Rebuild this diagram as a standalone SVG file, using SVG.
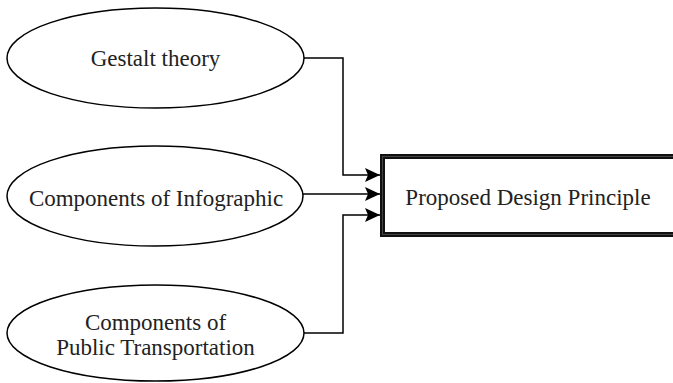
<svg xmlns="http://www.w3.org/2000/svg" width="673" height="383" viewBox="0 0 673 383">
<style>
.node ellipse{fill:#fff;stroke:#000;stroke-width:1.5}
text{font-family:"Liberation Serif","Times New Roman",serif;font-size:23px;fill:#222;text-anchor:middle}
.conn path{fill:none;stroke:#000;stroke-width:1.5}
</style>
<defs>
<marker id="arr" viewBox="0 0 15 14" refX="15" refY="7" markerWidth="15" markerHeight="14" markerUnits="userSpaceOnUse" orient="auto">
<path d="M0,0 L15,7 L0,14 L3,7 Z" fill="#000"/>
</marker>
</defs>
<rect width="673" height="383" fill="#fff"/>
<g id="gestalt" class="node">
<ellipse cx="155.5" cy="58" rx="148.5" ry="50"/>
<text x="155.5" y="66">Gestalt theory</text>
</g>
<g id="infographic" class="node">
<ellipse cx="155" cy="196" rx="148" ry="50"/>
<text x="156" y="206">Components of Infographic</text>
</g>
<g id="transport" class="node">
<ellipse cx="155.5" cy="333" rx="148.5" ry="48"/>
<text x="155.5" y="330">Components of</text>
<text x="155.5" y="355">Public Transportation</text>
</g>
<g id="principle">
<rect x="382.5" y="156.5" width="300" height="78" fill="#fff" stroke="#111" stroke-width="5"/>
<rect x="382.5" y="156.5" width="300" height="78" fill="none" stroke="#444" stroke-width="1"/>
<text x="528" y="205">Proposed Design Principle</text>
</g>
<g class="conn">
<path d="M304,58 H343 V175 H380" marker-end="url(#arr)"/>
<path d="M303,194 H380" marker-end="url(#arr)"/>
<path d="M304,333 H343 V215 H380" marker-end="url(#arr)"/>
</g>
</svg>
